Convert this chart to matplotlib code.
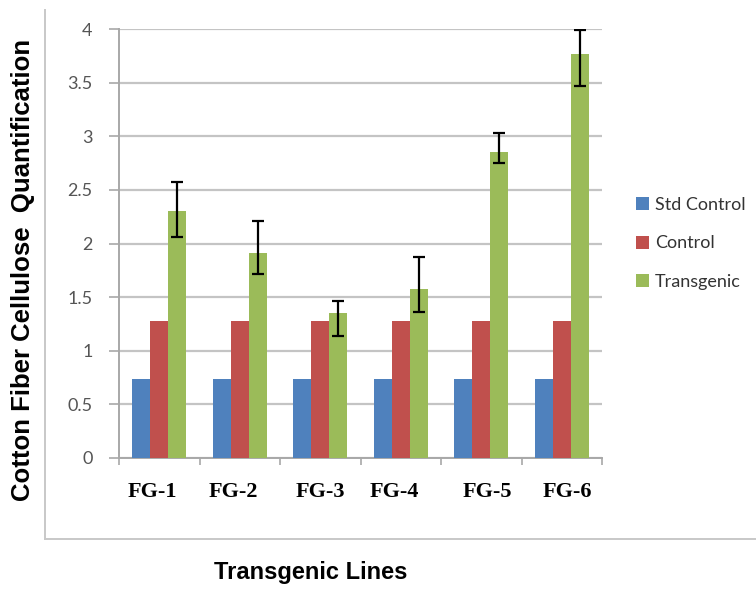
import matplotlib
matplotlib.use("Agg")
import matplotlib.pyplot as plt
import numpy as np
from matplotlib.lines import Line2D

categories = ["FG-1", "FG-2", "FG-3", "FG-4", "FG-5", "FG-6"]
std_control = [0.74, 0.74, 0.74, 0.74, 0.74, 0.74]
control = [1.28, 1.28, 1.28, 1.28, 1.28, 1.28]
transgenic = [2.30, 1.91, 1.35, 1.58, 2.85, 3.77]
trans_err_low = [0.24, 0.19, 0.21, 0.22, 0.10, 0.30]
trans_err_high = [0.27, 0.30, 0.11, 0.29, 0.18, 0.22]
series_names = ["Std Control", "Control", "Transgenic"]
yticks = [0, 0.5, 1, 1.5, 2, 2.5, 3, 3.5, 4]
ytick_labels = ["0", "0.5", "1", "1.5", "2", "2.5", "3", "3.5", "4"]

colors = ["#4F81BD", "#C0504D", "#9BBB59"]

fig = plt.figure(figsize=(7.56, 5.92), dpi=100)
ax = fig.add_axes([119/756, 1-458/592, (602-119)/756, (458-29)/592])

x = np.arange(len(categories))
w = 0.225
ax.bar(x - w, std_control, w, color=colors[0], label=series_names[0], zorder=3)
ax.bar(x, control, w, color=colors[1], label=series_names[1], zorder=3)
ax.bar(x + w, transgenic, w, color=colors[2], label=series_names[2], zorder=3,
       yerr=[trans_err_low, trans_err_high], capsize=4,
       error_kw=dict(ecolor="black", elinewidth=1.6, capthick=1.6, zorder=4))

ax.set_xlim(-0.5, len(categories) - 0.5)
ax.set_ylim(0, 4)
ax.set_yticks(yticks)
ax.set_yticklabels(ytick_labels, fontfamily="Lato", fontsize=13, color="#555555")
ax.yaxis.grid(True, color="#c4c4c4", linewidth=1.6, zorder=0)
ax.set_axisbelow(True)

ax.set_xticks(np.arange(len(categories) + 1) - 0.5, minor=False)
ax.set_xticklabels([])
ax.tick_params(axis="x", length=5, color="#a8a8a8", width=1.2)
ax.tick_params(axis="y", length=7, color="#a8a8a8", width=1.2, pad=12)

for s in ["top", "right"]:
    ax.spines[s].set_visible(False)
ax.spines["left"].set_color("#a8a8a8")
ax.spines["bottom"].set_color("#a8a8a8")
ax.spines["left"].set_linewidth(1.4)
ax.spines["bottom"].set_linewidth(1.4)

# category labels
label_offsets = [-0.08, -0.08, 0.0, -0.08, 0.08, 0.07]
for i, c in enumerate(categories):
    ax.text(i + label_offsets[i], -0.32, c, ha="center", va="center",
            fontfamily="Liberation Serif", fontweight="bold", fontsize=16,
            transform=ax.transData, clip_on=False)

fig.text(23/756, 1-270/592, "Cotton Fiber Cellulose  Quantification", rotation=90,
         ha="center", va="center", fontfamily="Liberation Sans", fontweight="bold",
         fontsize=18.5)
fig.text(311/756, 1-572/592, "Transgenic Lines", ha="center", va="center",
         fontfamily=["Liberation Sans Narrow", "Liberation Sans"], fontweight="bold",
         fontsize=17)

leg = ax.legend(loc="center left", bbox_to_anchor=(1.055, 0.5), frameon=False,
                prop={"family": "Lato", "size": 13}, handlelength=0.75,
                handleheight=0.75, handletextpad=0.3, labelspacing=1.25,
                borderaxespad=0)
for t in leg.get_texts():
    t.set_color("#333333")

# outer frame lines
fig.add_artist(Line2D([45/756, 45/756], [1-10/592, 1-539/592], color="#c8c8c8",
                      linewidth=1.4, transform=fig.transFigure))
fig.add_artist(Line2D([45/756, 1.0], [1-539/592, 1-539/592], color="#c8c8c8",
                      linewidth=1.4, transform=fig.transFigure))

fig.savefig("out.png", dpi=100)
